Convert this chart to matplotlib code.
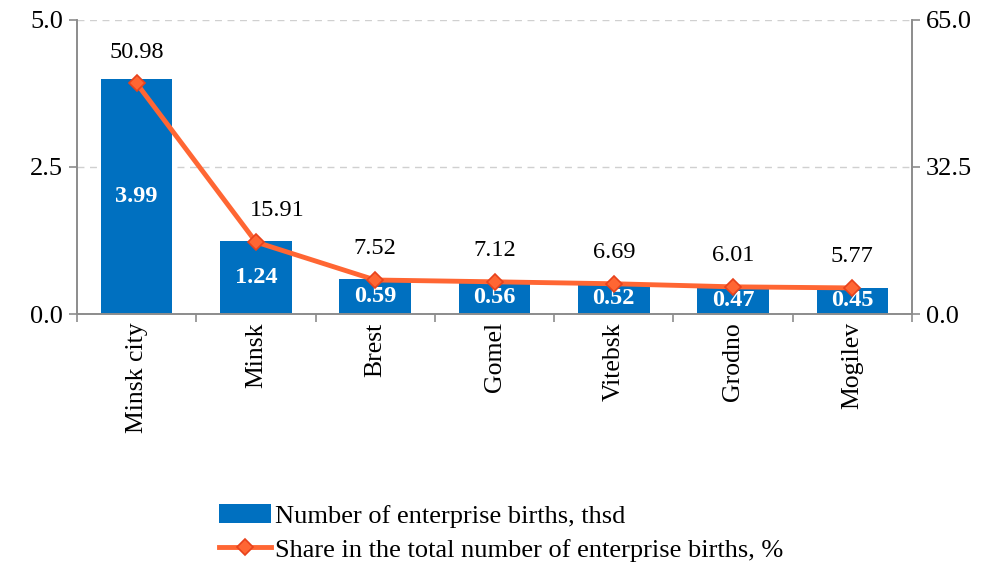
import matplotlib
matplotlib.use("Agg")
import matplotlib.pyplot as plt
import numpy as np

plt.rcParams["font.family"] = ["Liberation Serif", "DejaVu Serif"]

regions = ["Minsk city", "Minsk", "Brest", "Gomel", "Vitebsk", "Grodno", "Mogilev"]
births = [3.99, 1.24, 0.59, 0.56, 0.52, 0.47, 0.45]
share = [50.98, 15.91, 7.52, 7.12, 6.69, 6.01, 5.77]

BAR = "#0070C0"
LINE = "#FF6633"
EDGE = "#E8421C"
AXIS = "#8C8C8C"

fig = plt.figure(figsize=(9.96, 5.66), dpi=100)
ax = fig.add_axes([0.0773, 0.4452, 0.8384, 0.5195])
ax2 = ax.twinx()

x = np.arange(len(regions))
bars = ax.bar(x, births, width=0.6, color=BAR, zorder=2,
              label="Number of enterprise births, thsd")
ax.set_xlim(-0.5, len(regions) - 0.5)
ax.set_ylim(0, 5)
ax.set_yticks([0, 2.5, 5.0])
ax.set_yticklabels(["0.0", "2.5", "5.0"])
ax.yaxis.grid(True, linestyle=(0, (5, 4)), color="#D0D0D0", linewidth=1, zorder=0)
ax.set_axisbelow(True)

ax.set_xticks(x)
ax.set_xticklabels(regions, rotation=90)
ax.set_xticks(np.arange(len(regions) + 1) - 0.5, minor=True)
ax.tick_params(axis="x", which="major", length=0, pad=6, labelsize=18.5)
ax.tick_params(axis="x", which="minor", length=6, color=AXIS, width=1.2)
ax.tick_params(axis="y", length=6, color=AXIS, width=1.2, labelsize=19, pad=4)

for b, v in zip(bars, births):
    ax.text(b.get_x() + b.get_width() / 2, v / 2, f"{v:.2f}", ha="center", va="center",
            color="white", fontsize=17.5, fontweight="bold", zorder=5)

ln, = ax2.plot(x, share, color=LINE, lw=3.5, marker="D", markersize=8,
               markerfacecolor=LINE, markeredgecolor=EDGE, markeredgewidth=1.2, zorder=4,
               label="Share in the total number of enterprise births, %")
ax2.set_ylim(0, 65)
ax2.set_yticks([0, 32.5, 65])
ax2.set_yticklabels(["0.0", "32.5", "65.0"])
ax2.tick_params(axis="y", length=6, color=AXIS, width=1.2, labelsize=19, pad=4)
for i, (xi, v) in enumerate(zip(x, share)):
    dx = 15 if i == 1 else 0  # keep the label clear of the steep segment
    ax2.annotate(f"{v:.2f}", (xi, v), xytext=(dx, 15), textcoords="offset points",
                 ha="center", va="bottom", fontsize=17.5)

for a in (ax, ax2):
    a.spines["top"].set_visible(False)
    for s in ("left", "right", "bottom"):
        a.spines[s].set_color(AXIS)
        a.spines[s].set_linewidth(1.2)

fig.legend(handles=[bars, ln], loc="upper left", bbox_to_anchor=(0.209, 0.128),
           frameon=False, fontsize=19, handlelength=2.0, handletextpad=0.15,
           labelspacing=0.4, borderaxespad=0)

fig.savefig("out.png", dpi=100, facecolor="white")
